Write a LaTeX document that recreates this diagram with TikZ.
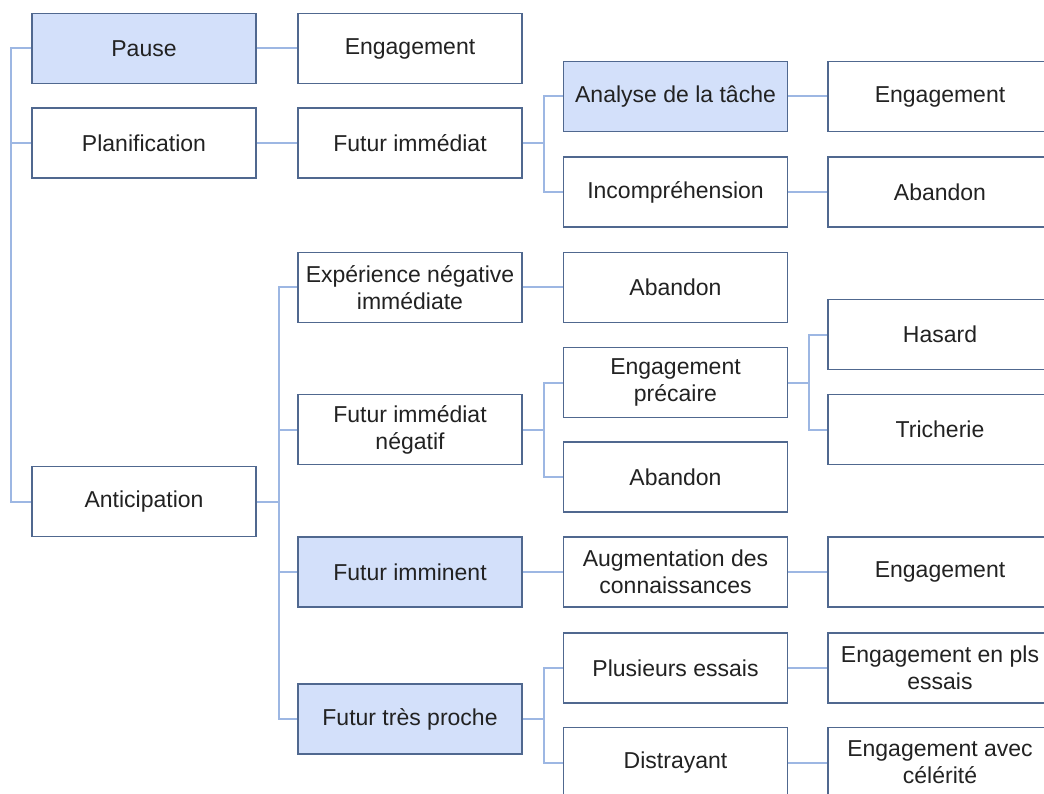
\documentclass[tikz,border=0pt]{standalone}
\usepackage{fontspec}
\setmainfont{Liberation Sans}
\begin{document}
\begin{tikzpicture}[x=1pt,y=-1pt,
  box/.style={draw=boxline, line width=1.6pt, fill=white, text=txt,
    minimum width=224pt, minimum height=70pt, inner sep=2pt,
    align=center, font=\fontsize{23}{27}\selectfont},
  hi/.style={box, fill=boxfill},
  conn/.style={draw=connline, line width=2pt}]
\definecolor{boxline}{HTML}{50688F}
\definecolor{boxfill}{HTML}{D3E0FA}
\definecolor{connline}{HTML}{9DB7E3}
\definecolor{txt}{HTML}{222222}
\useasboundingbox (0,0) rectangle (1044,794);
\clip (0,0) rectangle (1044,794);

% first column
\node[hi]  (pause) at (144,48.5)  {Pause};
\node[box] (plan)  at (144,143)   {Planification};
\node[box] (anti)  at (144,501.5) {Anticipation};

% second column
\node[box] (eng1)  at (410,48.5)  {Engagement};
\node[box] (fimm)  at (410,143)   {Futur immédiat};
\node[box] (exp)   at (410,287.5) {Expérience négative\\immédiate};
\node[box] (fneg)  at (410,429.5) {Futur immédiat\\négatif};
\node[hi]  (fimn)  at (410,572)   {Futur imminent};
\node[hi]  (ftp)   at (410,719)   {Futur très proche};

% third column
\node[hi]  (ana)   at (675.5,96.5)  {Analyse de la tâche};
\node[box] (inc)   at (675.5,192)   {Incompréhension};
\node[box] (ab1)   at (675.5,287.5) {Abandon};
\node[box] (engp)  at (675.5,382.5) {Engagement\\précaire};
\node[box] (ab2)   at (675.5,477)   {Abandon};
\node[box] (aug)   at (675.5,572)   {Augmentation des\\connaissances};
\node[box] (plus)  at (675.5,668)   {Plusieurs essais};
\node[box] (dist)  at (675.5,762.5) {Distrayant};

% fourth column
\node[box] (eng2)  at (940,96.5)  {Engagement};
\node[box] (ab3)   at (940,192)   {Abandon};
\node[box] (has)   at (940,334.5) {Hasard};
\node[box] (tri)   at (940,429.5) {Tricherie};
\node[box] (eng3)  at (940,572)   {Engagement};
\node[box] (engpl) at (940,668)   {Engagement en pls\\essais};
\node[box] (engc)  at (940,762.5) {Engagement avec\\célérité};

% connectors
\draw[conn] (pause.west) -- ++(-20,0) |- (anti.west);
\draw[conn] (plan.west) -- ++(-20,0);
\draw[conn] (pause.east) -- (eng1.west);
\draw[conn] (plan.east) -- (fimm.west);
\draw[conn] (fimm.east) -- ++(21,0) coordinate (f1) |- (ana.west);
\draw[conn] (f1) |- (inc.west);
\draw[conn] (ana.east) -- (eng2.west);
\draw[conn] (inc.east) -- (ab3.west);
\draw[conn] (anti.east) -- ++(22,0) coordinate (f2) |- (exp.west);
\draw[conn] (f2) |- (fneg.west);
\draw[conn] (f2) |- (fimn.west);
\draw[conn] (f2) |- (ftp.west);
\draw[conn] (exp.east) -- (ab1.west);
\draw[conn] (fneg.east) -- ++(21,0) coordinate (f3) |- (engp.west);
\draw[conn] (f3) |- (ab2.west);
\draw[conn] (engp.east) -- ++(21,0) coordinate (f4) |- (has.west);
\draw[conn] (f4) |- (tri.west);
\draw[conn] (fimn.east) -- (aug.west);
\draw[conn] (aug.east) -- (eng3.west);
\draw[conn] (ftp.east) -- ++(21,0) coordinate (f5) |- (plus.west);
\draw[conn] (f5) |- (dist.west);
\draw[conn] (plus.east) -- (engpl.west);
\draw[conn] (dist.east) -- (engc.west);
\end{tikzpicture}
\end{document}
